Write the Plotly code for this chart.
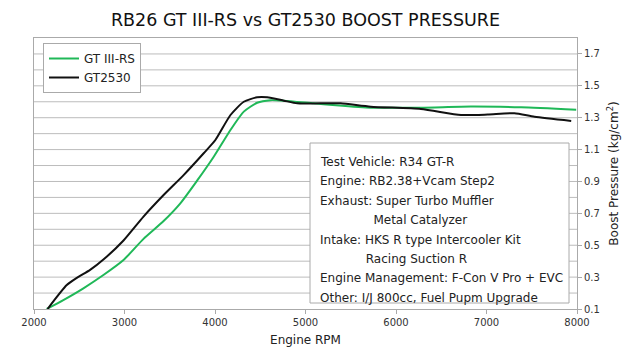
import plotly.graph_objects as go

# ---- data ----
rpm_gt3 = [2140, 2324, 2546, 2767, 2989, 3210, 3432, 3617, 3802, 3986, 4171, 4318, 4466, 4613, 4761,
           5093, 5300, 5721, 6275, 6828, 7382, 7991]
boost_gt3 = [0.10, 0.156, 0.23, 0.313, 0.407, 0.540, 0.652, 0.763, 0.905, 1.055, 1.223, 1.338, 1.394, 1.41, 1.407,
             1.39, 1.38, 1.363, 1.363, 1.37, 1.365, 1.35]

rpm_gt2530 = [2150, 2362, 2473, 2620, 2767, 2989, 3210, 3432, 3653, 3875, 4004, 4171, 4318, 4466, 4577,
              4761, 4909, 5167, 5389, 5721, 6275, 6718, 7013, 7308, 7530, 7936]
boost_gt2530 = [0.10, 0.25, 0.295, 0.345, 0.41, 0.53, 0.68, 0.815, 0.94, 1.077, 1.16, 1.317, 1.40, 1.428, 1.428,
                1.407, 1.39, 1.39, 1.39, 1.369, 1.355, 1.317, 1.32, 1.328, 1.306, 1.28]

series_names = ["GT III-RS", "GT2530"]
x_ticks = [2000, 3000, 4000, 5000, 6000, 7000, 8000]
y_ticks = [0.1, 0.3, 0.5, 0.7, 0.9, 1.1, 1.3, 1.5, 1.7]
y_grid = [0.2, 0.3, 0.4, 0.5, 0.6, 0.7, 0.8, 0.9, 1.0, 1.1, 1.2, 1.3, 1.4, 1.5, 1.6, 1.7]

info_lines = [
    "Test Vehicle: R34 GT-R",
    "Engine: RB2.38+Vcam Step2",
    "Exhaust: Super Turbo Muffler",
    "\u00a0" * 14 + "Metal Catalyzer",
    "Intake: HKS R type Intercooler Kit",
    "\u00a0" * 12 + "Racing Suction R",
    "Engine Management: F-Con V Pro + EVC",
    "Other: I/J 800cc, Fuel Pupm Upgrade",
]

# ---- layout geometry ----
W, H = 640, 355
L, R, T, B = 34, 577, 38, 309
pw, ph = R - L, B - T

def xp(px):
    return (px - L) / pw

def yp(py):
    return (B - py) / ph

FONT = "DejaVu Sans"
GREEN = "#20b858"
BLACK = "#111111"
GRID = "#bcbcbc"

x_lo, x_hi = x_ticks[0], x_ticks[-1]

fig = go.Figure()

# horizontal gridlines (every 0.1) as one background line trace
gx, gy = [], []
for g in y_grid:
    gx += [x_lo, x_hi, None]
    gy += [g, g, None]
fig.add_trace(go.Scatter(x=gx, y=gy, mode="lines", line=dict(color=GRID, width=1),
                         hoverinfo="skip", showlegend=False, connectgaps=False))

fig.add_trace(go.Scatter(x=rpm_gt3, y=boost_gt3, name=series_names[0], mode="lines",
                         line=dict(color=GREEN, width=2, shape="spline", smoothing=0.6)))
fig.add_trace(go.Scatter(x=rpm_gt2530, y=boost_gt2530, name=series_names[1], mode="lines",
                         line=dict(color=BLACK, width=2, shape="spline", smoothing=0.6)))

def xd(px):
    return x_lo + xp(px) * (x_hi - x_lo)

def yd(py):
    return 0.1 + yp(py) * 1.7

shapes = [dict(type="rect", xref="x", yref="y",
               x0=xd(310), x1=xd(569), y0=yd(303), y1=yd(143),
               line=dict(color="#aaaaaa", width=1), fillcolor="white", layer="above")]

annotations = []
for i, line in enumerate(info_lines):
    annotations.append(dict(
        xref="paper", yref="paper", x=xp(318), y=yp(162 + i * 19.4),
        xanchor="left", yanchor="middle", showarrow=False, text=line,
        font=dict(family=FONT, size=12, color="#222222")))

fig.update_layout(
    width=W, height=H,
    margin=dict(l=L, r=W - R, t=T, b=H - B, autoexpand=False),
    paper_bgcolor="white", plot_bgcolor="white",
    title=dict(text="RB26 GT III-RS vs GT2530 BOOST PRESSURE", x=0.5, xref="paper",
               y=1 - 20 / H, yanchor="middle",
               font=dict(family=FONT, size=17.5, color="#111111")),
    font=dict(family=FONT, size=10, color="#333333"),
    showlegend=True,
    legend=dict(x=xp(43), y=yp(43), xanchor="left", yanchor="top",
                bgcolor="white", bordercolor="#aaaaaa", borderwidth=1,
                font=dict(family=FONT, size=12, color="#222222"),
                itemwidth=30, tracegroupgap=4),
    xaxis=dict(range=[x_lo, x_hi], tickvals=x_ticks, showgrid=False, zeroline=False,
               showline=True, linecolor="#aaaaaa", mirror=True,
               ticks="outside", ticklen=4, tickcolor="#aaaaaa",
               tickfont=dict(family=FONT, size=10, color="#333333"),
               title=dict(text="Engine RPM", standoff=8,
                          font=dict(family=FONT, size=12, color="#222222"))),
    yaxis=dict(range=[0.1, 1.8], side="right", tickvals=y_ticks, ticktext=[f"{v:.1f}" for v in y_ticks],
               showgrid=False, zeroline=False,
               showline=True, linecolor="#aaaaaa", mirror=True,
               ticks="outside", ticklen=4, tickcolor="#aaaaaa",
               tickfont=dict(family=FONT, size=10, color="#333333"),
               title=dict(text="Boost Pressure (kg/cm<sup>2</sup>)", standoff=10,
                          font=dict(family=FONT, size=12, color="#222222"))),
    shapes=shapes,
    annotations=annotations,
)

fig.write_html(
    "out.html", config={"displayModeBar": False},
    post_script=("document.body.style.margin='0';document.body.style.padding='0';"
                 "var d=document.getElementsByClassName('plotly-graph-div')[0];"
                 "d.style.outline='1px solid #9a9a9a';d.style.outlineOffset='-1px';"))
